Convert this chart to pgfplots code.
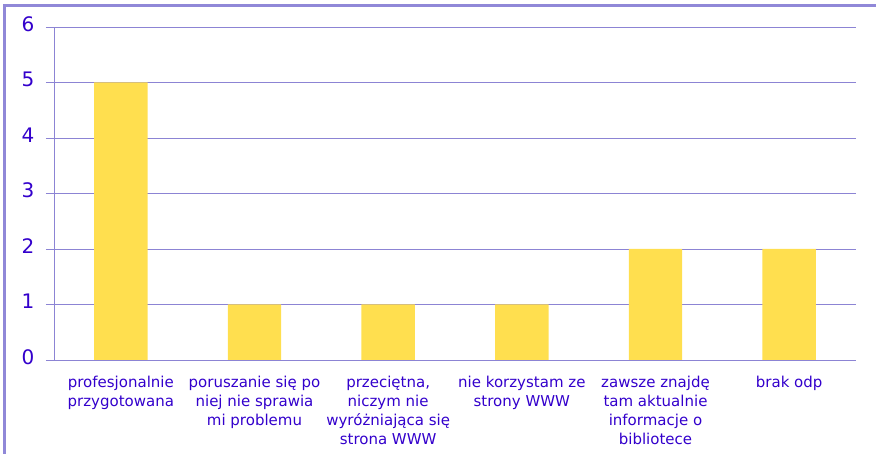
\documentclass[border=0pt]{standalone}
\usepackage{pgfplots}
\pgfplotsset{compat=1.18}
\usepackage{fontspec}
\setmainfont{DejaVu Sans}
\definecolor{txt}{HTML}{3300CC}
\definecolor{grd}{HTML}{8C84D4}
\definecolor{brd}{HTML}{9088D8}
\definecolor{bar}{HTML}{FFDF4F}
\begin{document}
\begin{tikzpicture}
\path[use as bounding box] (-54pt,-94pt) rectangle (822pt,360pt);
\draw[brd, line width=3pt] (-49pt,-94pt) -- (-49pt,354pt) -- (822pt,354pt);
\begin{axis}[
  at={(0pt,0pt)}, anchor=south west,
  scale only axis, width=802pt, height=333pt,
  xmin=-0.5, xmax=5.5, ymin=0, ymax=6,
  axis lines=left, axis line style={-, grd, line width=0.8pt},
  ytick={0,1,2,3,4,5,6},
  ymajorgrids, grid style={grd, line width=0.8pt},
  major tick length=8pt,
  ytick style={grd, line width=0.8pt},
  tick align=outside,
  xtick={0,1,2,3,4,5},
  xticklabels={{profesjonalnie\\przygotowana}, {poruszanie się po\\niej nie sprawia\\mi problemu}, {przeciętna,\\niczym nie\\wyróżniająca się\\strona WWW}, {nie korzystam ze\\strony WWW}, {zawsze znajdę\\tam aktualnie\\informacje o\\bibliotece}, {brak odp}},
  x tick style={draw=none},
  minor xtick={-0.5,0.5,1.5,2.5,3.5,4.5,5.5},
  minor tick length=5pt,
  minor x tick style={grd, line width=0.8pt},
  xticklabel style={text=txt, font=\fontsize{15}{19}\selectfont, align=center, yshift=-3pt},
  yticklabel style={text=txt, font=\fontsize{20}{22}\selectfont, xshift=-8pt},
  /pgf/number format/assume math mode=true,
  typeset ticklabels with strut,
]
\addplot[ybar, bar width=0.4, fill=bar, draw=none] coordinates {(0,5) (1,1) (2,1) (3,1) (4,2) (5,2)};
\end{axis}
\end{tikzpicture}
\end{document}
